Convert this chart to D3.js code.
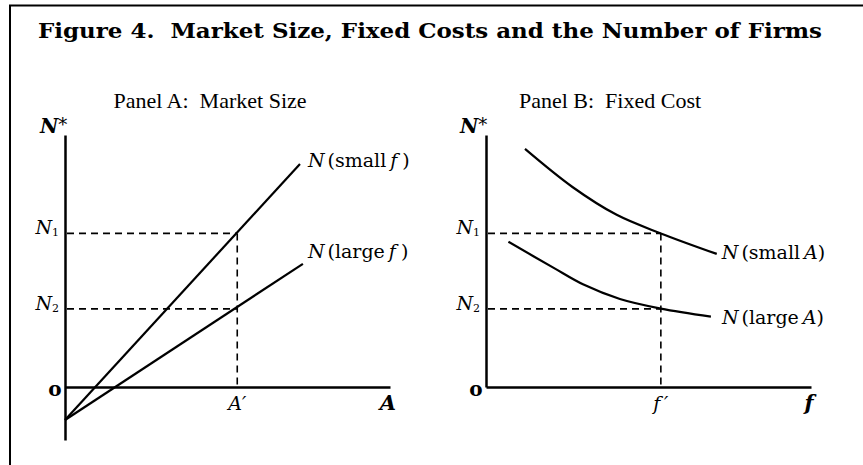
<!DOCTYPE html>
<html>
<head>
<meta charset="utf-8">
<script src="https://cdn.jsdelivr.net/npm/d3@7"></script>
<style>
  body { margin: 0; background: #fff; }
  svg text { font-family: "DejaVu Serif", "Liberation Serif", serif; fill: #000; white-space: pre; }
</style>
</head>
<body>
<svg id="canvas_svg" width="863" height="465"></svg>
<script>
// chart values
var titleText = "Figure 4.  Market Size, Fixed Costs and the Number of Firms";
var panelTitles = ["Panel A:  Market Size", "Panel B:  Fixed Cost"];

// panel A: N* against market size A (straight lines)
var smallF = [[0, -10.3], [72.3, 69.7]];
var largeF = [[0, -10.3], [73.2, 38.5]];
var aPrime = 53;

// panel B: N* against fixed cost f (curves)
var smallA = [[12.0, 74.4], [26.6, 62.5], [40.2, 53.8], [53.8, 48.0], [71.0, 41.6]];
var largeA = [[6.9, 45.4], [20.7, 37.3], [30.0, 32.0], [41.2, 27.5], [53.8, 24.5], [69.2, 22.0]];
var fPrime = 53.8;

var nLevels = [48, 24.4];
var nLabels = ["1", "2"];
var lineLabelsA = ["small", "large"];
var lineLabelsB = ["small", "large"];

var svg = d3.select("#canvas_svg");

// frame
svg.append("rect")
  .attr("x", 10).attr("y", 5.5)
  .attr("width", 880).attr("height", 500)
  .attr("fill", "none").attr("stroke", "#000").attr("stroke-width", 2);

svg.append("text")
  .attr("x", 38).attr("y", 38)
  .attr("font-weight", "bold")
  .attr("font-size", 21)
  .attr("textLength", 784)
  .attr("lengthAdjust", "spacingAndGlyphs")
  .text(titleText);

svg.selectAll("text.ptitle")
  .data(panelTitles)
  .enter()
  .append("text")
  .attr("class", "ptitle")
  .attr("x", function(d, i) { return i == 0 ? 210 : 610; })
  .attr("y", 108)
  .attr("text-anchor", "middle")
  .attr("font-size", 22)
  .style("font-family", "'Liberation Serif', serif")
  .text(function(d) { return d; });

function drawPanel(opts) {
  var x = d3.scaleLinear().domain([0, 100]).range(opts.xRange);
  var y = d3.scaleLinear().domain(opts.yDomain).range(opts.yRange);
  var x0 = x(0), y0 = y(0);

  var g = svg.append("g");

  // axes: plain lines, no ticks
  g.append("g")
    .attr("transform", "translate(0," + y0 + ")")
    .call(d3.axisBottom(x).tickValues([]).tickSizeOuter(0))
    .select(".domain").attr("stroke-width", 2.5);
  g.append("g")
    .attr("transform", "translate(" + x0 + ",0)")
    .call(d3.axisLeft(y).tickValues([]).tickSizeOuter(0))
    .select(".domain").attr("stroke-width", 2.5);

  // dashed guides
  var xp = opts.xPrime;
  var dash = g.append("g")
    .attr("stroke", "#000").attr("stroke-width", 1.6).attr("stroke-dasharray", "7,5").attr("fill", "none");
  nLevels.forEach(function(n) {
    dash.append("line")
      .attr("x1", x0 + 2).attr("x2", x(xp))
      .attr("y1", y(n)).attr("y2", y(n));
  });
  dash.append("line")
    .attr("x1", x(xp)).attr("x2", x(xp))
    .attr("y1", y(nLevels[0])).attr("y2", y0);

  var line = d3.line()
    .x(function(d) { return x(d[0]); })
    .y(function(d) { return y(d[1]); })
    .curve(opts.curve);

  g.selectAll("path.series")
    .data(opts.series)
    .enter()
    .append("path")
    .attr("class", "series")
    .attr("d", line)
    .attr("fill", "none")
    .attr("stroke", "#000")
    .attr("stroke-width", 2.2);

  // N1, N2 labels
  nLevels.forEach(function(n, i) {
    var t = g.append("text")
      .attr("x", x0 - 6).attr("y", y(n) + 1)
      .attr("text-anchor", "end")
      .attr("font-size", 19);
    t.append("tspan").attr("font-style", "italic").text("N");
    t.append("tspan").attr("font-size", 11).attr("dy", 2).text(nLabels[i]);
  });

  // origin
  g.append("text")
    .attr("x", x0 - 10).attr("y", y0 + 9)
    .attr("text-anchor", "middle")
    .attr("font-size", 20)
    .attr("font-weight", "bold")
    .text("o");

  // N* axis title
  var ny = g.append("text")
    .attr("x", opts.nStarX).attr("y", opts.yRange[1] - 2)
    .attr("font-size", 20).attr("font-weight", "bold").attr("font-style", "italic");
  ny.append("tspan").text("N");
  ny.append("tspan").attr("font-style", "normal").attr("font-weight", "normal")
    .attr("font-size", 18).attr("dy", -2).text("*");

  // primed label under the axis
  g.append("text")
    .attr("x", x(xp)).attr("y", y0 + 23)
    .attr("text-anchor", "middle")
    .attr("font-size", 19).attr("font-style", "italic")
    .text(opts.primeLabel);

  // axis variable
  g.append("text")
    .attr("x", opts.xRange[1] - 2).attr("y", y0 + 23)
    .attr("text-anchor", "middle")
    .attr("font-size", 21).attr("font-weight", "bold").attr("font-style", "italic")
    .text(opts.axisVar);

  // series labels
  opts.series.forEach(function(s, i) {
    var last = s[s.length - 1];
    var t = g.append("text")
      .attr("x", x(last[0]) + opts.labelDx[i])
      .attr("y", y(last[1]) + opts.labelDy[i])
      .attr("font-size", 19);
    t.append("tspan").attr("font-style", "italic").text("N");
    t.append("tspan").attr("dx", 3).text("(" + opts.labels[i]);
    t.append("tspan").attr("font-style", "italic").attr("dx", 4).text(opts.seriesVar);
    t.append("tspan").attr("dx", opts.closeGap).text(")");
  });

  return { x: x, y: y };
}

drawPanel({
  xRange: [65, 390],
  yDomain: [-16.56, 78.75],
  yRange: [440, 135],
  series: [smallF, largeF],
  xPrime: aPrime,
  primeLabel: "A\u2032",
  axisVar: "A",
  seriesVar: "f",
  labels: lineLabelsA,
  labelDx: [8, 5],
  labelDy: [3, -6],
  closeGap: 5,
  nStarX: 40,
  curve: d3.curveLinear
});

drawPanel({
  xRange: [486, 811],
  yDomain: [0, 78.75],
  yRange: [387, 135],
  series: [smallA, largeA],
  xPrime: fPrime,
  primeLabel: "f\u2009\u2032",
  axisVar: "f",
  seriesVar: "A",
  labels: lineLabelsB,
  labelDx: [5, 11],
  labelDy: [5, 7],
  closeGap: 0,
  nStarX: 460,
  curve: d3.curveCatmullRom.alpha(0.5)
});
</script>
</body>
</html>
